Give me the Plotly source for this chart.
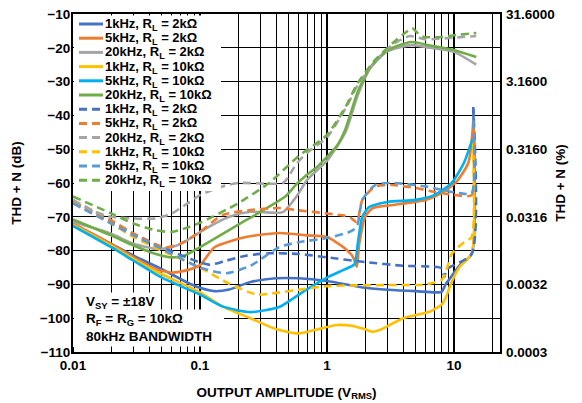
import plotly.graph_objects as go

# ---------------- data ----------------
# Solid curves
s1k2k_x = [0.01, 0.02, 0.03, 0.05, 0.08, 0.1, 0.13, 0.17, 0.25, 0.4, 0.6, 1.0, 2.0, 3.0, 5.0, 8.0, 8.6, 9.5, 11, 13.8, 14.2]
s1k2k_y = [-72.0, -78, -81.5, -85.5, -89.5, -91, -92, -91.5, -89.3, -88.2, -88.2, -89, -91, -91.6, -92, -92.2, -90, -87.8, -84.5, -81, -38]

s5k2k_x = [0.01, 0.02, 0.03, 0.045, 0.06, 0.075, 0.1, 0.13, 0.23, 0.42, 0.7, 1.0, 1.35, 1.6, 1.72, 1.8, 2.0, 2.3, 3.3, 6, 8, 10.5, 13, 14.2]
s5k2k_y = [-72.0, -78, -82, -85.5, -86.5, -86, -84.3, -79, -76, -74.8, -75.5, -76, -79, -81.8, -84.8, -77.8, -70, -67.4, -66.5, -65, -63, -59.6, -54, -42]

s20k2k_x = [0.01, 0.02, 0.03, 0.045, 0.06, 0.075, 0.1, 0.17, 0.25, 0.45, 0.55, 0.6, 0.7, 0.85, 1.0, 1.4, 1.75, 2.2, 3.0, 4.6, 6.0, 10, 15]
s20k2k_y = [-71.5, -75, -78, -79.5, -79, -77.5, -74.5, -70, -68.5, -68.6, -65, -63, -59, -56, -53.5, -45, -34, -26, -21, -19.2, -19.8, -21.2, -25]

s1k10k_x = [0.01, 0.02, 0.03, 0.05, 0.1, 0.15, 0.25, 0.4, 0.6, 0.8, 1.2, 1.6, 2.0, 2.3, 2.6, 4, 6.5, 8, 8.6, 9.5, 11, 13.8, 14.2]
s1k10k_y = [-72.3, -78.5, -82.5, -87, -92.3, -96.5, -100, -103.3, -104.5, -103.5, -102, -102.3, -103.3, -104.0, -103.5, -100, -98, -96, -94, -89.7, -85, -80.8, -48]

s5k10k_x = [0.01, 0.02, 0.03, 0.05, 0.1, 0.15, 0.25, 0.42, 0.55, 0.68, 1.0, 1.35, 1.65, 1.75, 1.9, 2.15, 3, 5, 7, 9.6, 12, 14]
s5k10k_y = [-72.7, -79, -83, -88, -93, -96.5, -98.2, -96.7, -94, -91.7, -88, -85.7, -84, -77.8, -70, -67.1, -65.6, -65, -63.6, -60, -54, -47]

s20k10k_x = [0.01, 0.02, 0.03, 0.045, 0.06, 0.075, 0.1, 0.23, 0.47, 0.57, 0.7, 0.85, 1.0, 1.2, 1.4, 1.75, 2.2, 3.0, 4.6, 6.5, 9.6, 15]
s20k10k_y = [-70.8, -75.5, -78.5, -81, -82, -81.5, -79, -71, -64, -60.5, -57.5, -55, -52.3, -49, -44, -33, -25.7, -20.7, -18.3, -19.3, -20.5, -22.7]

# Dashed curves
d1k2k_x = [0.01, 0.02, 0.03, 0.05, 0.1, 0.12, 0.16, 0.23, 0.35, 0.6, 1.0, 2.0, 4.0, 8.0, 8.4, 8.8, 13.8, 14.2]
d1k2k_y = [-65.8, -71.5, -75, -79, -83.5, -84.2, -83, -81.5, -80.8, -81, -82, -83.4, -84.5, -85.2, -87.8, -85.5, -81, -37.5]

d5k2k_x = [0.01, 0.02, 0.03, 0.045, 0.055, 0.07, 0.1, 0.15, 0.25, 0.42, 0.57, 1.0, 1.5, 1.72, 1.9, 2.4, 3.3, 5, 7, 10, 13.8, 14.2]
d5k2k_y = [-65.5, -71, -75, -78.3, -79, -78, -74.5, -69.5, -68, -67.4, -68, -69, -70, -71.6, -65, -61, -60.6, -61.5, -62.6, -63.5, -63.6, -41.5]

d20k2k_x = [0.01, 0.015, 0.02, 0.03, 0.045, 0.06, 0.08, 0.1, 0.15, 0.2, 0.45, 0.5, 0.57, 0.7, 1.0, 1.4, 1.75, 2.4, 3.3, 4.5, 6, 10, 15]
d20k2k_y = [-65.0, -68.5, -70, -70.5, -70.5, -69, -66, -63.6, -61, -60, -60, -58, -54.5, -51, -46.5, -38, -31, -24, -19, -16.5, -17.5, -17, -16.5]

d1k10k_x = [0.01, 0.02, 0.03, 0.05, 0.1, 0.17, 0.28, 0.4, 0.57, 1.0, 3.0, 6.0, 8.0, 8.6, 9.6, 12, 13.8, 14.2]
d1k10k_y = [-66.0, -72, -76, -80, -85, -89.8, -93, -92.5, -91.7, -90.5, -90.2, -90, -88.7, -86.6, -81, -77.5, -76, -50]

d5k10k_x = [0.01, 0.02, 0.03, 0.05, 0.1, 0.16, 0.25, 0.42, 0.6, 1.0, 1.5, 1.72, 1.9, 2.4, 3.3, 6, 8, 11, 13.8, 14.2]
d5k10k_y = [-66.0, -72, -75.5, -79.5, -85, -86.7, -84.5, -79, -77.5, -76.3, -74.5, -73, -65, -60.6, -60, -61, -62, -63, -63, -41]

d20k10k_x = [0.01, 0.02, 0.03, 0.045, 0.06, 0.075, 0.1, 0.2, 0.35, 0.6, 1.0, 1.4, 1.75, 2.4, 3.3, 4.0, 4.7, 5.3, 5.8, 8, 10.5, 15]
d20k10k_y = [-64.0, -69, -72, -74, -74.5, -73.5, -71.8, -66, -60, -52, -45.8, -37.5, -30.4, -23.6, -18.6, -16, -14.2, -16, -16.8, -16.8, -16.2, -15.6]

names = ["1kHz, R<sub>L</sub> = 2kΩ", "5kHz, R<sub>L</sub> = 2kΩ", "20kHz, R<sub>L</sub> = 2kΩ",
         "1kHz, R<sub>L</sub> = 10kΩ", "5kHz, R<sub>L</sub> = 10kΩ", "20kHz, R<sub>L</sub> = 10kΩ"]

solid_colors = ["#4472C4", "#ED7D31", "#A5A5A5", "#FFC000", "#00B0F0", "#70AD47"]
dash_colors = ["#4472C4", "#ED7D31", "#A5A5A5", "#FFC000", "#5B9BD5", "#70AD47"]

solid_series = [(s1k2k_x, s1k2k_y), (s5k2k_x, s5k2k_y), (s20k2k_x, s20k2k_y),
                (s1k10k_x, s1k10k_y), (s5k10k_x, s5k10k_y), (s20k10k_x, s20k10k_y)]
dash_series = [(d1k2k_x, d1k2k_y), (d5k2k_x, d5k2k_y), (d20k2k_x, d20k2k_y),
               (d1k10k_x, d1k10k_y), (d5k10k_x, d5k10k_y), (d20k10k_x, d20k10k_y)]

y_ticks = [-10, -20, -30, -40, -50, -60, -70, -80, -90, -100, -110]
pct_tickvals = [-10, -30, -50, -70, -90, -110]
pct_ticktext = ["31.6000", "3.1600", "0.3160", "0.0316", "0.0032", "0.0003"]
x_tickvals = [0.01, 0.1, 1, 10]
x_ticktext = ["0.01", "0.1", "1", "10"]
note_lines = ["V<sub>SY</sub> = ±18V", "R<sub>F</sub> = R<sub>G</sub> = 10kΩ", "80kHz BANDWIDTH"]

FONT = "Liberation Sans, Arial, sans-serif"
DASH = "8px,5px"
LW = 2.6

fig = go.Figure()
for (x, y), n, c in zip(solid_series, names, solid_colors):
    fig.add_trace(go.Scatter(x=x, y=y, name=n, mode="lines", showlegend=False,
                             line=dict(color=c, width=LW, shape="spline", smoothing=0.6)))
for (x, y), n, c in zip(dash_series, names, dash_colors):
    fig.add_trace(go.Scatter(x=x, y=y, name=n, mode="lines", showlegend=False,
                             line=dict(color=c, width=LW, dash=DASH, shape="spline", smoothing=0.6)))

# invisible trace so the right-hand % axis is drawn
fig.add_trace(go.Scatter(x=s1k2k_x, y=s1k2k_y, yaxis="y2", mode="lines", line=dict(width=0),
                         showlegend=False, hoverinfo="skip", opacity=0))

# ---------------- geometry (page has an 8px body margin) ----------------
OFF = 8
W, H = 582 - OFF, 403 - OFF
ML, MR, MT, MB = 73 - OFF, 82, 14 - OFF, 51
PW, PH = W - ML - MR, H - MT - MB


def px_x(p):  # window pixel -> paper x
    return (p - OFF - ML) / PW


def px_y(p):  # window pixel -> paper y
    return (H - MB - (p - OFF)) / PH


# ---------------- hand-built compact legend with white background ----------------
shapes = [dict(type="rect", xref="paper", yref="paper", x0=px_x(74), x1=px_x(221),
               y0=px_y(191), y1=px_y(15.5), fillcolor="white", line=dict(width=0), layer="above"),
          # white block behind the lower two note lines
          dict(type="rect", xref="paper", yref="paper", x0=px_x(74), x1=px_x(224),
               y0=px_y(346.5), y1=px_y(309.5), fillcolor="white", line=dict(width=0), layer="above")]
annotations = []
leg_entries = [(n, c, "solid") for n, c in zip(names, solid_colors)] + \
              [(n, c, DASH) for n, c in zip(names, dash_colors)]
for i, (n, c, d) in enumerate(leg_entries):
    yc = 24 + 14.2 * i
    shapes.append(dict(type="line", xref="paper", yref="paper", x0=px_x(79), x1=px_x(103),
                       y0=px_y(yc), y1=px_y(yc), line=dict(color=c, width=3, dash=d), layer="above"))
    annotations.append(dict(text=n, xref="paper", yref="paper", x=px_x(103), y=px_y(yc + 0.5),
                            xanchor="left", yanchor="middle", showarrow=False,
                            font=dict(size=13, family=FONT, weight="bold")))

for i, t in enumerate(note_lines):
    yc = 302 + 17 * i
    annotations.append(dict(text=t, xref="paper", yref="paper", x=px_x(84), y=px_y(yc),
                            xanchor="left", yanchor="middle", showarrow=False,
                            bgcolor="white" if i == 0 else None, borderpad=1,
                            font=dict(size=13.5, family=FONT, weight="bold")))

fig.update_layout(
    width=W, height=H,
    margin=dict(l=ML, r=MR, t=MT, b=MB, autoexpand=False),
    paper_bgcolor="white", plot_bgcolor="white",
    font=dict(family=FONT, size=13.5, color="black", weight="bold"),
    showlegend=False,
    xaxis=dict(type="log", range=[-2, 1.363], tickvals=x_tickvals, ticktext=x_ticktext,
               showgrid=True, gridcolor="black", gridwidth=1.5, automargin=False,
               ticklabeloverflow="allow",
               minor=dict(dtick="D1", showgrid=True, gridcolor="black", gridwidth=1,
                          ticks="inside", ticklen=5, tickcolor="black", tickwidth=1),
               showline=True, linecolor="black", linewidth=2, mirror=True,
               ticks="", title=dict(text="OUTPUT AMPLITUDE (V<sub>RMS</sub>)", standoff=15,
                                     font=dict(size=13.5))),
    yaxis=dict(range=[-110, -10], tickvals=y_ticks, showgrid=True, gridcolor="black", gridwidth=1,
               showline=True, linecolor="black", linewidth=2, mirror=True, ticks="", automargin=False,
               ticklabeloverflow="allow", ticklabelstandoff=-2,
               title=dict(text="THD + N (dB)", standoff=15, font=dict(size=13.5)), zeroline=False),
    yaxis2=dict(range=[-110, -10], overlaying="y", side="right", tickvals=pct_tickvals,
                ticktext=pct_ticktext, showgrid=False, zeroline=False, ticks="", automargin=False,
                ticklabeloverflow="allow", ticklabelstandoff=5,
                title=dict(text="THD + N (%)", standoff=1, font=dict(size=13.5))),
    shapes=shapes,
    annotations=annotations,
)

fig.write_html("out.html")
